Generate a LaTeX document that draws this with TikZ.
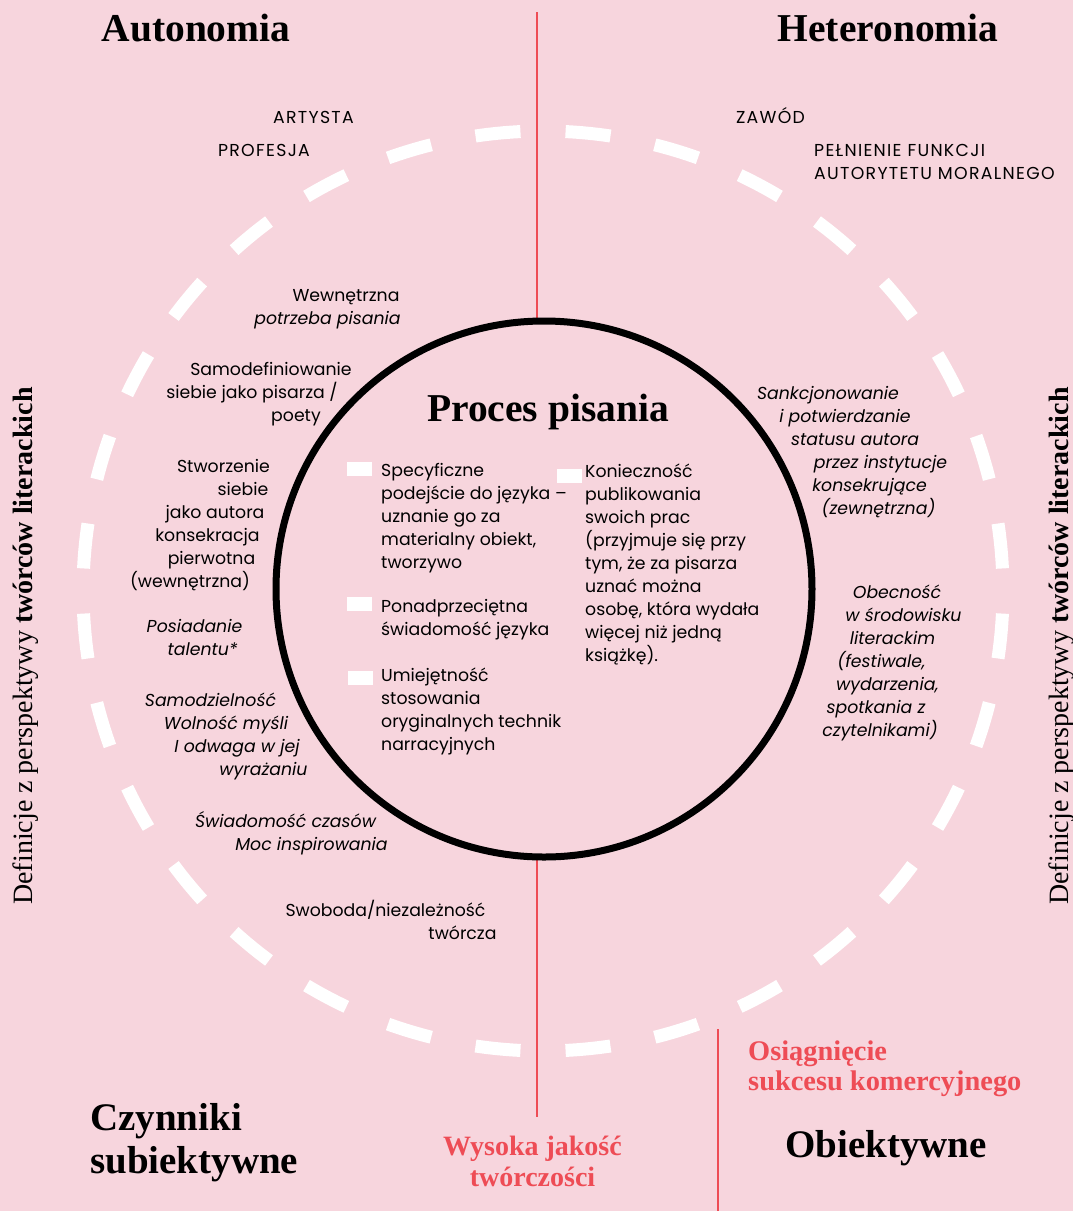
\documentclass[tikz,border=0pt]{standalone}
\usepackage{fontspec}
\setmainfont{Liberation Serif}
\newfontfamily\sansf{Poppins}
\definecolor{bg}{HTML}{F7D5DD}
\definecolor{redl}{HTML}{EE4C55}
\begin{document}
\begin{tikzpicture}[x=1pt,y=-1pt,
  tx/.style={font=\sansf\fontsize{17.3}{23}\selectfont, inner sep=0pt, anchor=base, text=black},
  txw/.style={tx, anchor=base west},
  caps/.style={tx, font=\sansf\fontsize{17.3}{23}\selectfont\addfontfeatures{LetterSpace=7.5}},
  capsw/.style={caps, anchor=base west},
  it/.style={tx, font=\sansf\itshape\fontsize{17.3}{23}\selectfont},
  head/.style={font=\bfseries\fontsize{39.5}{42}\selectfont, inner sep=0pt, anchor=base},
  headb/.style={font=\bfseries\fontsize{39}{42}\selectfont, inner sep=0pt, anchor=base},
  headw/.style={headb, anchor=base west},
  redt/.style={font=\bfseries\fontsize{28.4}{31}\selectfont, inner sep=0pt, anchor=base west, text=redl},
  redc/.style={redt, anchor=base, font=\bfseries\fontsize{28}{31}\selectfont},
  divider/.style={draw=redl, line width=1.6pt},
  ring/.style={draw=white, line width=13pt},
  bullet/.style={fill=white, minimum width=25pt, minimum height=14pt, inner sep=0pt},
  vert/.style={font=\fontsize{28}{30}\selectfont, rotate=90, anchor=base, inner sep=0pt}
]
\fill[bg] (0,0) rectangle (1073,1211);
\useasboundingbox (0,0) rectangle (1073,1211);

% dividers
\coordinate (t1) at (537,12);
\coordinate (t2) at (537,321);
\coordinate (b1) at (537,857);
\coordinate (b2) at (537,1117);
\coordinate (r1) at (718,1029);
\coordinate (r2) at (718,1211);
\draw[divider] (t1) -- (t2);
\draw[divider] (b1) -- (b2);
\draw[divider] (r1) -- (r2);

% dashed ring
\coordinate (rc) at (543,591);
\foreach \i in {0,...,31}{
  \pgfmathsetmacro{\a}{90+2.8125+11.25*\i}
  \draw[ring] (rc) ++(\a:460) arc[start angle=\a, delta angle=5.625, radius=460];
}

% core circle
\node[circle, draw=black, line width=7pt, minimum size=536pt, inner sep=0pt] (core) at (544,589) {};

% headings
\node[head] (auto) at (196,41) {Autonomia};
\node[head] (hetero) at (888,41) {Heteronomia};
\node[head] (proc) at (548,421) {Proces pisania};

% top labels
\node[caps] (art) at (313.5,123) {ARTYSTA};
\node[caps] (prof) at (264,156) {PROFESJA};
\node[caps] (zaw) at (770.5,123) {ZAWÓD};
\node[capsw] (pel1) at (814,156) {PEŁNIENIE FUNKCJI};
\node[capsw] (pel2) at (814,179) {AUTORYTETU MORALNEGO};

% left outer texts
\node[tx] (w1) at (346,301) {Wewnętrzna};
\node[it] (w2) at (327.5,324) {potrzeba pisania};
\node[tx] (s1) at (271,375) {Samodefiniowanie};
\node[tx] (s2) at (252,398) {siebie jako pisarza /};
\node[tx] (s3) at (296,421) {poety};
\node[tx] (k1) at (223.5,472) {Stworzenie};
\node[tx] (k2) at (243,495) {siebie};
\node[tx] (k3) at (215,518) {jako autora};
\node[tx] (k4) at (207.5,541) {konsekracja};
\node[tx] (k5) at (211.5,564) {pierwotna};
\node[tx] (k6) at (190,587) {(wewnętrzna)};
\node[it] (p1) at (194.5,632) {Posiadanie};
\node[it] (p2) at (202.5,655) {talentu*};
\node[it] (d1) at (210.5,706) {Samodzielność};
\node[it] (d2) at (226,729) {Wolność myśli};
\node[it] (d3) at (237,752) {I odwaga w jej};
\node[it] (d4) at (263.5,775) {wyrażaniu};
\node[it] (c1) at (285.5,827) {Świadomość czasów};
\node[it] (c2) at (311.5,850) {Moc inspirowania};
\node[tx] (f1) at (385.5,916) {Swoboda/niezależność};
\node[tx] (f2) at (462.5,939) {twórcza};

% right outer texts
\node[it] (n1) at (828,399) {Sankcjonowanie};
\node[it] (n2) at (845,422) {i potwierdzanie};
\node[it] (n3) at (855,445) {statusu autora};
\node[it] (n4) at (880.5,468) {przez instytucje};
\node[it] (n5) at (869.5,491) {konsekrujące};
\node[it] (n6) at (878.5,514) {(zewnętrzna)};
\node[it] (o1) at (897,598) {Obecność};
\node[it] (o2) at (903.5,621) {w środowisku};
\node[it] (o3) at (892.5,644) {literackim};
\node[it] (o4) at (881.5,667) {(festiwale,};
\node[it] (o5) at (887.5,690) {wydarzenia,};
\node[it] (o6) at (876,713) {spotkania z};
\node[it] (o7) at (880,736) {czytelnikami)};

% inner bullets
\node[bullet] (q1) at (359.5,469) {};
\node[bullet] (q2) at (569.5,475.5) {};
\node[bullet] (q3) at (359.5,604) {};
\node[bullet] (q4) at (360,678) {};

% inner left column
\node[txw] (a1) at (381,476) {Specyficzne};
\node[txw] (a2) at (381,499) {podejście do języka –};
\node[txw] (a3) at (381,522) {uznanie go za};
\node[txw] (a4) at (381,545) {materialny obiekt,};
\node[txw] (a5) at (381,568) {tworzywo};
\node[txw] (b1t) at (381,612) {Ponadprzeciętna};
\node[txw] (b2t) at (381,635) {świadomość języka};
\node[txw] (u1) at (381,681) {Umiejętność};
\node[txw] (u2) at (381,704) {stosowania};
\node[txw] (u3) at (381,727) {oryginalnych technik};
\node[txw] (u4) at (381,750) {narracyjnych};

% inner right column
\node[txw] (r1t) at (585,477) {Konieczność};
\node[txw] (r2t) at (585,500) {publikowania};
\node[txw] (r3t) at (585,523) {swoich prac};
\node[txw] (r4t) at (585,546) {(przyjmuje się przy};
\node[txw] (r5t) at (585,569) {tym, że za pisarza};
\node[txw] (r6t) at (585,592) {uznać można};
\node[txw] (r7t) at (585,615) {osobę, która wydała};
\node[txw] (r8t) at (585,638) {więcej niż jedną};
\node[txw] (r9t) at (585,661) {książkę).};

% vertical texts
\node[vert] (vl) at (32,646) {Definicje z perspektywy {\bfseries twórców literackich}};
\node[vert] (vr) at (1068,646) {Definicje z perspektywy {\bfseries twórców literackich}};

% bottom labels
\node[headw] (cz1) at (90,1130) {Czynniki};
\node[headw] (cz2) at (90,1173) {subiektywne};
\node[headb] (obj) at (886,1157) {Obiektywne};
\node[redt] (os1) at (748,1060) {Osiągnięcie};
\node[redt] (os2) at (748,1090) {sukcesu komercyjnego};
\node[redc] (wy1) at (532.5,1155) {Wysoka jakość};
\node[redc] (wy2) at (532.5,1186) {twórczości};
\end{tikzpicture}
\end{document}
